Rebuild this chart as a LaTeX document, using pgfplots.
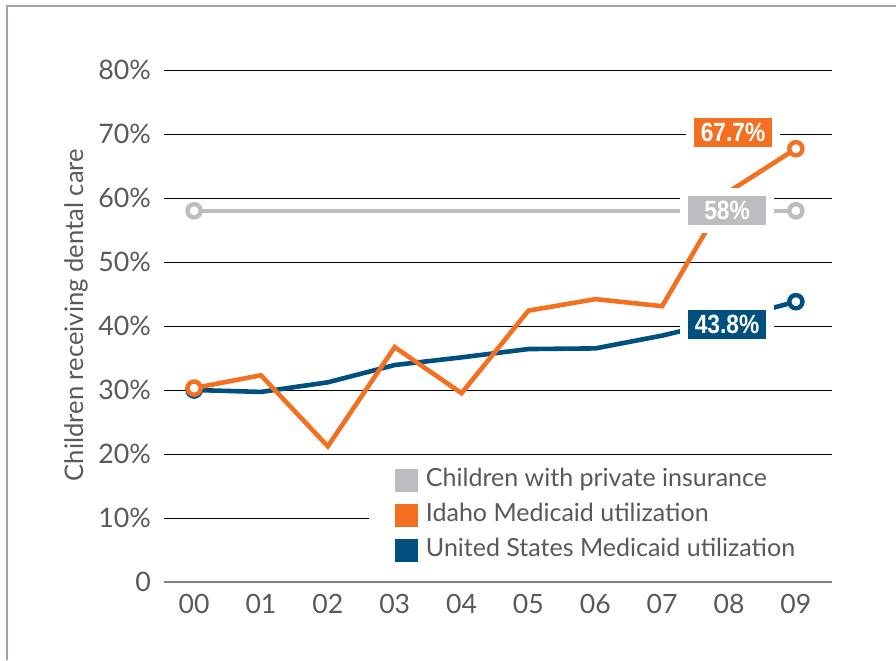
\documentclass[border=0pt]{standalone}
\usepackage{pgfplots}
\pgfplotsset{compat=1.18}
\usepackage{fontspec}
\setmainfont{Lato}
\newfontfamily\condbold[FakeStretch=0.86]{Liberation Sans Bold}
\definecolor{orng}{HTML}{F37021}
\definecolor{blu}{HTML}{00507F}
\definecolor{gry}{HTML}{BCBDC0}
\definecolor{txt}{HTML}{58595B}
\definecolor{bord}{HTML}{9AA5AE}
\definecolor{axg}{HTML}{7F7F7F}
\pgfplotstableread{
x idaho us
0 30.3 30.0
1 32.3 29.7
2 21.2 31.2
3 36.7 33.9
4 29.5 35.1
5 42.4 36.4
6 44.2 36.5
7 43.1 38.5
8 61.0 41.0
9 67.7 43.8
}\datatab
\pgfplotstableread{
x priv
0 58
9 58
}\privtab
\begin{document}
\begin{tikzpicture}
\begin{axis}[
  scale only axis,
  width=334pt, height=256pt,
  at={(82pt,39pt)}, anchor=south west,
  xmin=-0.45, xmax=9.54,
  ymin=0, ymax=80,
  xtick={0,...,9},
  xticklabels={00,01,02,03,04,05,06,07,08,09},
  ytick={0,10,...,80},
  yticklabels={0,10\%,20\%,30\%,40\%,50\%,60\%,70\%,80\%},
  axis line style={draw=none},
  tick style={draw=none},
  clip=false,
  ticklabel style={text=txt},
  xticklabel style={font=\fontsize{13.3}{15}\selectfont, yshift=-2.5pt},
  yticklabel style={font=\fontsize{13.4}{15}\selectfont, xshift=-3pt},
  legend style={at={(0.326,0.234)}, anchor=north west, fill=white, draw=none,
    font=\fontsize{12.5}{14}\selectfont, text=txt, inner xsep=6.5pt, inner ysep=3pt,
    row sep=5.5pt,
    nodes={text height=9pt, text depth=3pt, inner ysep=0pt, inner xsep=0pt},
    /tikz/every even column/.append style={column sep=0pt},
    /tikz/every odd column/.append style={column sep=4pt}},
  legend cell align=left,
]
% gridlines
\draw[black, line width=0.5pt] (axis cs:-0.45,80) -- (axis cs:9.54,80);
\draw[black, line width=0.5pt] (axis cs:-0.45,70) -- (axis cs:9.54,70);
\draw[black, line width=0.5pt] (axis cs:-0.45,60) -- (axis cs:9.54,60);
\draw[black, line width=0.5pt] (axis cs:-0.45,50) -- (axis cs:9.54,50);
\draw[black, line width=0.5pt] (axis cs:-0.45,40) -- (axis cs:9.54,40);
\draw[black, line width=0.5pt] (axis cs:-0.45,30) -- (axis cs:9.54,30);
\draw[black, line width=0.5pt] (axis cs:-0.45,20) -- (axis cs:9.54,20);
\draw[black, line width=0.5pt] (axis cs:-0.45,10) -- (axis cs:2.62,10);
\draw[axg, line width=1pt] (axis cs:-0.45,0) -- (axis cs:9.54,0);

\addlegendimage{legend image code/.code={\fill[gry] (0pt,-5.5pt) rectangle (11pt,5.5pt);}}
\addlegendentry{Children with private insurance}
\addlegendimage{legend image code/.code={\fill[orng] (0pt,-5.5pt) rectangle (11pt,5.5pt);}}
\addlegendentry{Idaho Medicaid utilization}
\addlegendimage{legend image code/.code={\fill[blu] (0pt,-5.5pt) rectangle (11pt,5.5pt);}}
\addlegendentry{United States Medicaid utilization}

\addplot[forget plot, gry, line width=2.3pt, mark=*, mark size=3.3pt,
  mark options={fill=white, line width=2.2pt}] table[x=x,y=priv] {\privtab};
\addplot[forget plot, blu, line width=2.3pt, mark=*, mark size=3.3pt, mark indices={1,10},
  mark options={fill=white, line width=2.2pt}] table[x=x,y=us] {\datatab};
\addplot[forget plot, orng, line width=2.3pt, mark=*, mark size=3.3pt, mark indices={1,10},
  mark options={fill=white, line width=2.2pt}] table[x=x,y=idaho] {\datatab};

\tikzset{vlab/.style={draw=white, line width=4pt, minimum width=43pt, minimum height=18.5pt,
  inner sep=0pt, text=white, font=\condbold\fontsize{13.2}{15}\selectfont}}
\node[vlab, fill=orng] at (axis cs:8.06,70.2) {67.7\%};
\node[vlab, fill=gry] at (axis cs:7.97,58.1) {58\%};
\node[vlab, fill=blu] at (axis cs:7.97,40.2) {43.8\%};
\end{axis}
\node[rotate=90, text=txt, font=\fontsize{12.8}{15}\selectfont] at (38pt,172.5pt) {Children receiving dental care};
\draw[bord, line width=0.6pt] (3.5pt,0pt) -- (3.5pt,327pt) -- (448pt,327pt);
\pgfresetboundingbox
\useasboundingbox (0pt,0pt) rectangle (448pt,330pt);
\end{tikzpicture}
\end{document}
